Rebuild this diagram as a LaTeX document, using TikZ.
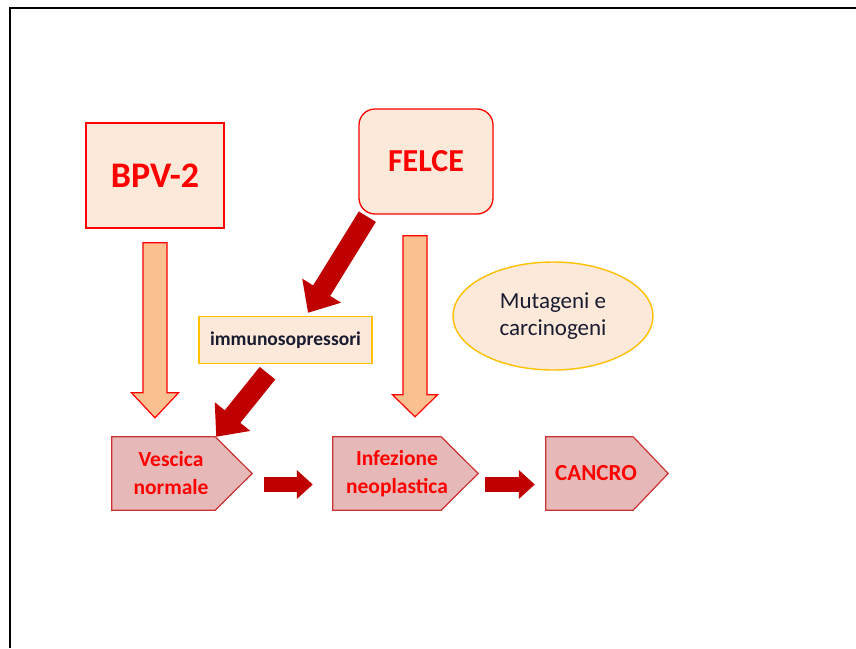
\documentclass[tikz,border=0pt]{standalone}
\usepackage{fontspec}
\setmainfont{Carlito}
\usetikzlibrary{positioning, calc, shapes.geometric, arrows.meta, backgrounds}

\definecolor{peach}{RGB}{253,233,217}
\definecolor{apricot}{RGB}{250,192,144}
\definecolor{rose}{RGB}{230,185,184}
\definecolor{roseline}{RGB}{205,50,50}
\definecolor{darkred}{RGB}{192,0,0}
\definecolor{gold}{RGB}{255,192,0}
\definecolor{ink}{RGB}{25,28,48}

% hollow block arrow: tail, tip, half shaft, half head, head length
\newcommand{\fatarrow}[5]{%
  \draw[fatline]
    ($(#1)!#3!90:(#2)$)
    -- ($($(#2)!#5!(#1)$)!#3!90:(#2)$)
    -- ($($(#2)!#5!(#1)$)!#4!90:(#2)$)
    -- (#2)
    -- ($($(#2)!#5!(#1)$)!#4!-90:(#2)$)
    -- ($($(#2)!#5!(#1)$)!#3!-90:(#2)$)
    -- ($(#1)!#3!-90:(#2)$) -- cycle;}

% pentagon behind a stage node: node, start of point, tip
\newcommand{\stageshape}[3]{%
  \draw[stageline] (#1.north west) -- ($(#1.north east)+(#2,0)$)
    -- ($(#1.east)+(#3,0)$) -- ($(#1.south east)+(#2,0)$)
    -- (#1.south west) -- cycle;}

\begin{document}
\begin{tikzpicture}
[x=1pt, y=-1pt, on grid,
 cause/.style={draw=red, line width=1.6pt, fill=peach, text=red,
   font=\bfseries\fontsize{36}{40}\selectfont},
 side/.style={draw=gold, line width=1.4pt, fill=peach, text=ink},
 stage/.style={minimum height=73pt, inner sep=0pt, align=center, text=red,
   font=\bfseries\fontsize{21.5}{28}\selectfont},
 stageline/.style={draw=roseline, line width=1.2pt, fill=rose},
 fatline/.style={draw=red, line width=1.2pt, fill=apricot},
 bigarrow/.style={draw=darkred, line width=20pt, -{Triangle[width=44pt,length=26pt]}},
 smallarrow/.style={draw=darkred, line width=15pt, -{Triangle[width=28pt,length=16pt]}}]

\useasboundingbox (0,0) rectangle (856,648);
\draw[line width=2.5pt] (10,648) -- (10,8) -- (856,8);

\node[cause, minimum width=138pt, minimum height=105pt] (bpv) at (155,175.5) {BPV-2};
\node[cause, rounded corners=16pt, line width=1.3pt, minimum width=134pt, minimum height=105pt,
  font=\bfseries\fontsize{32}{36}\selectfont] (felce) at (426,161.5) {FELCE};
\node[side, minimum width=173pt, minimum height=47pt,
  font=\bfseries\fontsize{19.5}{22}\selectfont] (immuno) at (285.5,340) {immunosopressori};
\node[side, ellipse, minimum width=200pt, minimum height=108pt, align=center,
  font=\fontsize{23}{27}\selectfont] (mutageni) at (553,316) {Mutageni e\\carcinogeni};

\node[stage, minimum width=118pt] (vescica) at (171,473.5) {Vescica\\normale};
\node[stage, minimum width=128pt, right=226pt of vescica] (infezione) {Infezione\\neoplastica};
\node[stage, minimum width=100pt, right=199pt of infezione,
  font=\bfseries\fontsize{23}{26}\selectfont] (cancro) {CANCRO};

\begin{scope}[on background layer]
  \stageshape{vescica}{-15}{22}
  \stageshape{infezione}{-20}{17}
  \stageshape{cancro}{-13}{22}
\end{scope}

\coordinate (bpvtail) at ($(bpv.south)+(0,14)$);
\coordinate (bpvtip) at ($(bpv.south |- vescica.north)+(0,-19)$);
\coordinate (felcetail) at ($(felce.south)+(-11,21)$);
\coordinate (felcetip) at ($(felce.south |- infezione.north)+(-11,-20)$);
\fatarrow{bpvtail}{bpvtip}{12pt}{23.5pt}{25pt}
\fatarrow{felcetail}{felcetip}{12pt}{22.5pt}{22pt}

\draw[bigarrow] ($(felce.south west)+(9,2)$) -- ($(immuno.north)+(22.5,-3)$);
\draw[bigarrow] ($(immuno.south)+(-18,9)$) -- ($(vescica.north east)+(-14,0)$);
\draw[smallarrow] ($(vescica.east)+(34,11)$) -- ($(infezione.west)+(-20,11)$);
\draw[smallarrow] ($(infezione.east)+(24,11)$) -- ($(cancro.west)+(-11,11)$);
\end{tikzpicture}
\end{document}
